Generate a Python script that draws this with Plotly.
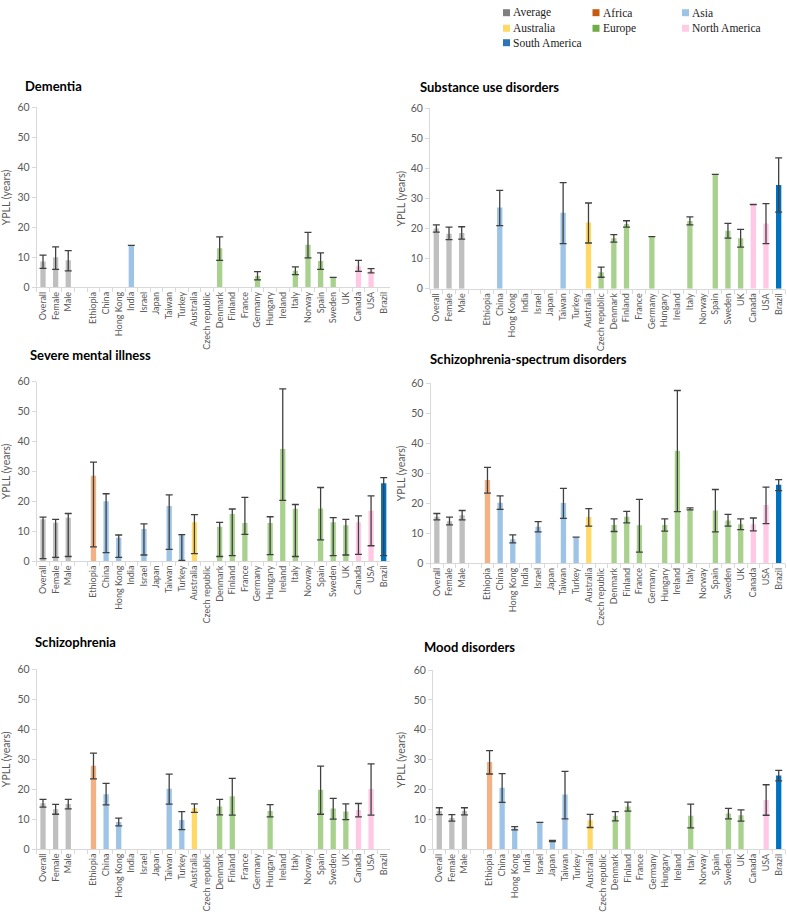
import plotly.graph_objects as go

W, H = 787, 912

categories = ["Overall", "Female", "Male", " ", "Ethiopia", "China", "Hong Kong", "India", "Israel",
              "Japan", "Taiwan", "Turkey", "Australia", "Czech republic", "Denmark", "Finland",
              "France", "Germany", "Hungary", "Ireland", "Italy", "Norway", "Spain", "Sweden",
              "UK", "Canada", "USA", "Brazil"]
regions = ["Average", "Average", "Average", None, "Africa", "Asia", "Asia", "Asia", "Asia",
           "Asia", "Asia", "Asia", "Australia", "Europe", "Europe", "Europe",
           "Europe", "Europe", "Europe", "Europe", "Europe", "Europe", "Europe", "Europe",
           "Europe", "North America", "North America", "South America"]

legend_names = ["Average", "Africa", "Asia", "Australia", "Europe", "North America", "South America"]
legend_colors = ["#7f7f7f", "#c55a11", "#9dc3e6", "#ffd966", "#70ad47", "#ffcce6", "#2e75b6"]
bar_colors = {"Average": "#bfbfbf", "Africa": "#f4b183", "Asia": "#9dc3e6", "Australia": "#ffd966",
              "Europe": "#a9d18e", "North America": "#ffc9e6", "South America": "#0070c0", None: "#ffffff"}

N = None
# ---- Dementia ----
dementia_val = [8.6, 10.0, 9.0, N, N, N, N, 14.0, N, N, N, N, N, N, 13.0, N, N, 3.8, N, N, 5.5, 14.2, 8.8, 3.3, N, 7.0, 5.5, N]
dementia_lo  = [6.3, 6.0, 5.5, N, N, N, N, 14.0, N, N, N, N, N, N, 9.0, N, N, 2.5, N, N, 4.2, 9.8, 6.0, 3.3, N, 5.3, 4.8, N]
dementia_hi  = [10.7, 13.5, 12.2, N, N, N, N, 14.0, N, N, N, N, N, N, 16.8, N, N, 5.2, N, N, 6.8, 18.3, 11.5, 3.3, N, 9.0, 6.2, N]
# ---- Substance use disorders ----
substance_val = [20.0, 18.3, 18.5, N, N, 27.0, N, N, N, N, 25.3, N, 22.0, 5.5, 16.8, 21.5, N, 17.3, N, N, 22.5, N, 38.0, 19.3, 16.8, 28.0, 21.7, 34.5]
substance_lo  = [18.8, 16.3, 16.5, N, N, 21.0, N, N, N, N, 15.0, N, 15.2, 3.8, 15.5, 20.5, N, 17.3, N, N, 21.2, N, 38.0, 16.8, 13.8, 28.0, 15.0, 25.5]
substance_hi  = [21.2, 20.5, 20.6, N, N, 32.7, N, N, N, N, 35.3, N, 28.5, 7.2, 18.0, 22.6, N, 17.3, N, N, 23.9, N, 38.0, 21.7, 19.7, 28.0, 28.3, 43.5]
# ---- Severe mental illness ----
smi_val = [14.0, 12.8, 14.5, N, 28.5, 20.0, 7.8, N, 10.7, N, 18.4, 8.8, 13.0, N, 11.5, 15.7, 12.7, N, 12.7, 37.5, 17.5, N, 17.6, 13.0, 12.0, 13.0, 16.8, 26.0]
smi_lo  = [0.8, 1.2, 1.5, N, 4.7, 2.8, 1.2, N, 2.0, N, 3.9, 0.2, 2.5, N, 1.5, 1.8, 8.9, N, 2.1, 20.3, 1.5, N, 7.1, 1.8, 2.0, 2.2, 5.1, 1.8]
smi_hi  = [14.7, 13.9, 15.9, N, 33.1, 22.5, 8.7, N, 12.4, N, 22.1, 8.8, 15.5, N, 12.9, 17.4, 21.3, N, 14.8, 57.6, 18.9, N, 24.6, 14.5, 13.9, 15.1, 21.8, 27.9]
# ---- Schizophrenia-spectrum disorders ----
ssd_val = [15.5, 14.0, 16.0, N, 27.8, 20.2, 8.0, N, 12.2, N, 20.1, 8.7, 15.4, N, 12.8, 15.5, 12.7, N, 12.8, 37.5, 18.0, N, 17.6, 14.3, 13.0, 13.0, 19.4, 26.2]
ssd_lo  = [14.5, 12.8, 14.5, N, 23.4, 18.0, 6.8, N, 10.5, N, 15.0, 8.7, 12.4, N, 10.6, 13.5, 3.7, N, 10.7, 17.2, 17.8, N, 10.5, 12.4, 11.2, 10.8, 13.2, 24.2]
ssd_hi  = [16.6, 15.4, 17.6, N, 32.0, 22.5, 9.5, N, 13.9, N, 25.0, 8.7, 18.2, N, 14.8, 17.3, 21.3, N, 14.8, 57.6, 18.5, N, 24.6, 16.3, 14.8, 15.1, 25.4, 27.9]
# ---- Schizophrenia ----
scz_val = [15.3, 13.3, 15.0, N, 27.8, 18.3, 9.0, N, N, N, 20.1, 9.7, 13.7, N, 14.2, 17.6, N, N, 12.7, N, N, N, 19.8, 13.5, 12.5, 13.0, 20.0, N]
scz_lo  = [14.0, 11.6, 13.4, N, 23.4, 14.7, 7.7, N, N, N, 15.0, 6.5, 12.2, N, 11.4, 11.3, N, N, 10.7, N, N, N, 11.6, 10.0, 9.8, 10.7, 11.3, N]
scz_hi  = [16.6, 14.9, 16.6, N, 32.0, 21.9, 10.3, N, N, N, 25.0, 12.5, 15.1, N, 16.6, 23.6, N, N, 14.8, N, N, N, 27.7, 16.9, 15.1, 15.2, 28.4, N]
# ---- Mood disorders ----
mood_val = [12.8, 10.5, 12.8, N, 29.2, 20.6, 7.0, N, 9.0, 2.8, 18.3, N, 9.7, N, 11.2, 14.3, N, N, N, N, 11.2, N, N, 12.0, 11.4, N, 16.5, 24.7]
mood_lo  = [11.6, 9.4, 11.5, N, 25.2, 15.7, 6.5, N, 9.0, 2.6, 10.2, N, 7.3, N, 9.5, 12.8, N, N, N, N, 7.2, N, N, 10.2, 9.4, N, 11.4, 22.9]
mood_hi  = [13.9, 11.6, 13.9, N, 33.0, 25.3, 7.6, N, 9.0, 3.0, 26.1, N, 11.7, N, 12.6, 15.8, N, N, N, N, 15.1, N, N, 13.7, 13.2, N, 21.6, 26.4]

y_ticks = [0, 10, 20, 30, 40, 50, 60]

panels = [
    ("Dementia", dementia_val, dementia_lo, dementia_hi),
    ("Substance use disorders", substance_val, substance_lo, substance_hi),
    ("Severe mental illness", smi_val, smi_lo, smi_hi),
    ("Schizophrenia-spectrum disorders", ssd_val, ssd_lo, ssd_hi),
    ("Schizophrenia", scz_val, scz_lo, scz_hi),
    ("Mood disorders", mood_val, mood_lo, mood_hi),
]

# pixel geometry: (x0, x1, ytop, ybottom), title pos (x, y), y-label x
geom = [
    ((36.7, 390.0, 107.3, 287.3), (23, 86), 6),
    ((430.0, 785.0, 108.3, 288.7), (418, 86.5), 401),
    ((36.7, 390.0, 381.7, 561.0), (28, 355), 6),
    ((430.5, 785.0, 383.3, 563.3), (428, 359), 401),
    ((36.7, 390.0, 669.3, 849.0), (33, 642), 6),
    ((433.0, 785.0, 670.0, 849.3), (421.5, 647), 401),
]

def px(x):
    return x / W

def py(y):
    return 1 - y / H

fig = go.Figure()
annotations = []
shapes = []
colors = [bar_colors[r] for r in regions]
font_main = "Lato, Open Sans, sans-serif"

for i, ((title, val, lo, hi), ((x0, x1, yt, yb), (tx, ty), ylx)) in enumerate(zip(panels, geom)):
    n = i + 1
    xa = "x" if n == 1 else f"x{n}"
    ya = "y" if n == 1 else f"y{n}"
    plus = [None if v is None else h - v for v, h in zip(val, hi)]
    minus = [None if v is None else v - l for v, l in zip(val, lo)]
    fig.add_trace(go.Bar(
        x=categories, y=val, xaxis=xa, yaxis=ya,
        marker=dict(color=colors, line=dict(width=0)),
        error_y=dict(type="data", symmetric=False, array=plus, arrayminus=minus,
                     color="#404040", thickness=1.3, width=3.5),
        showlegend=False, hoverinfo="x+y",
    ))
    xk = "xaxis" if n == 1 else f"xaxis{n}"
    yk = "yaxis" if n == 1 else f"yaxis{n}"
    fig.layout[xk] = dict(
        domain=[px(x0), px(x1)], anchor=ya, type="category", automargin=False,
        categoryorder="array", categoryarray=categories,
        range=[-0.5, len(categories) - 0.5],
        showline=True, linecolor="#d9d9d9", linewidth=1,
        ticks="outside", tickson="boundaries", ticklen=4, tickcolor="#d9d9d9",
        tickangle=-90, tickfont=dict(family=font_main, size=9, color="#595959"),
        showgrid=False, zeroline=False, fixedrange=True,
    )
    fig.layout[yk] = dict(
        domain=[py(yb), py(yt)], anchor=xa, range=[0, 60], automargin=False,
        tickvals=y_ticks, showline=True, linecolor="#d9d9d9", linewidth=1,
        ticks="outside", ticklen=4, tickcolor="#d9d9d9",
        tickfont=dict(family=font_main, size=10.5, color="#595959"),
        showgrid=False, zeroline=False, fixedrange=True,
    )
    annotations.append(dict(
        text=f"<b>{title}</b>", x=px(tx), y=py(ty), xref="paper", yref="paper",
        xanchor="left", yanchor="middle", showarrow=False,
        font=dict(family=font_main, size=13, color="#000000"),
    ))
    annotations.append(dict(
        text="YPLL (years)", x=px(ylx), y=py((yt + yb) / 2), xref="paper", yref="paper",
        xanchor="center", yanchor="middle", showarrow=False, textangle=-90,
        font=dict(family=font_main, size=10.5, color="#595959"),
    ))

# legend (manual, 3 columns)
col_x = [503, 592.5, 682]
row_y = [12.7, 28.3, 42.7]
for k, (name, c) in enumerate(zip(legend_names, legend_colors)):
    r, cidx = divmod(k, 3)
    sx, sy = col_x[cidx], row_y[r]
    shapes.append(dict(type="rect", xref="paper", yref="paper",
                       x0=px(sx), x1=px(sx + 7), y0=py(sy + 3.5), y1=py(sy - 3.5),
                       fillcolor=c, line=dict(width=0)))
    annotations.append(dict(
        text=name, x=px(sx + 8), y=py(sy), xref="paper", yref="paper",
        xanchor="left", yanchor="middle", showarrow=False,
        font=dict(family="Liberation Serif, Times New Roman, serif", size=11.5, color="#1a1a1a"),
    ))

fig.update_layout(
    width=W, height=H, margin=dict(l=0, r=0, t=0, b=0, autoexpand=False),
    paper_bgcolor="white", plot_bgcolor="white",
    bargap=0.58, annotations=annotations, shapes=shapes,
    showlegend=False,
)

fig.write_html("out.html", config={"displayModeBar": False},
               post_script="document.body.style.margin='0';document.body.style.padding='0';")
